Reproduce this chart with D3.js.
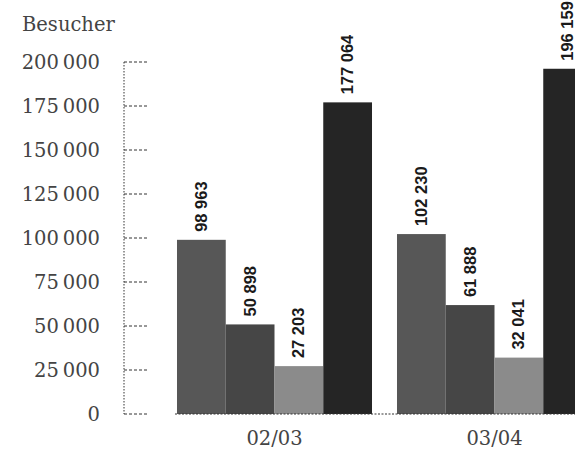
<!DOCTYPE html>
<html>
<head>
<meta charset="utf-8">
<script src="https://cdn.jsdelivr.net/npm/d3@7"></script>
<style>
  html, body { margin: 0; padding: 0; background: #fff; }
  svg { display: block; }
</style>
</head>
<body>
<svg id="chart" width="575" height="450"></svg>
<script>
// ---- data ----
const categories = ["02/03", "03/04"];
const series1 = [98963, 102230];
const series2 = [50898, 61888];
const series3 = [27203, 32041];
const series4 = [177064, 196159];
const tickValues = [0, 25000, 50000, 75000, 100000, 125000, 150000, 175000, 200000];
const yTitle = "Besucher";

// ---- setup ----
const svg = d3.select("#chart");
const colors = ["#575757", "#464646", "#8b8b8b", "#252525"];
const allSeries = [series1, series2, series3, series4];

const locAxis = d3.formatLocale({decimal: ",", thousands: "\u2009", grouping: [3], currency: ["", ""]});
const locBar = d3.formatLocale({decimal: ",", thousands: " ", grouping: [3], currency: ["", ""]});
const fmtAxis = locAxis.format(",d");
const fmtBar = locBar.format(",d");

const y = d3.scaleLinear().domain([0, 200000]).range([414, 62]);
const x0 = d3.scaleBand().domain(categories).range([164.5, 604.5]).paddingInner(0.1136).paddingOuter(0.0568);
const x1 = d3.scaleBand().domain(d3.range(allSeries.length)).range([0, x0.bandwidth()]).padding(0);

// y axis line (dotted)
svg.append("line")
  .attr("x1", 124).attr("x2", 124)
  .attr("y1", y(200000)).attr("y2", y(0))
  .attr("stroke", "#777").attr("stroke-width", 1.5)
  .attr("stroke-dasharray", "1.5,1.5");

// ticks
const yAxis = d3.axisLeft(y).tickValues(tickValues).tickFormat(fmtAxis).tickSize(0);
const gAxis = svg.append("g").attr("transform", "translate(100,0)").call(yAxis);
gAxis.select(".domain").remove();
gAxis.selectAll("text")
  .attr("x", 0)
  .attr("dy", "0.35em")
  .attr("fill", "#444")
  .style("font-family", "'DejaVu Serif', serif")
  .style("font-size", "19.5px");

svg.append("g").selectAll("line").data(tickValues).join("line")
  .attr("x1", 124).attr("x2", 147)
  .attr("y1", d => y(d)).attr("y2", d => y(d))
  .attr("stroke", "#333").attr("stroke-width", 1)
  .attr("stroke-dasharray", "3,2");

// y title
svg.append("text")
  .attr("x", 22).attr("y", 31)
  .attr("fill", "#444")
  .style("font-family", "'DejaVu Serif', serif")
  .style("font-size", "19.5px")
  .text(yTitle);

// bars
const groups = svg.append("g").selectAll("g").data(categories).join("g")
  .attr("transform", d => `translate(${x0(d)},0)`);

groups.each(function(cat, ci) {
  const g = d3.select(this);
  allSeries.forEach((s, si) => {
    const v = s[ci];
    g.append("rect")
      .attr("x", x1(si))
      .attr("y", y(v))
      .attr("width", x1.bandwidth())
      .attr("height", y(0) - y(v))
      .attr("fill", colors[si]);
    const cx = x1(si) + x1.bandwidth() / 2;
    const ty = y(v) - 8;
    g.append("text")
      .attr("transform", `translate(${cx},${ty}) rotate(-90)`)
      .attr("dy", "0.33em")
      .attr("text-anchor", "start")
      .attr("fill", "#1a1a1a")
      .style("font-family", "'Liberation Sans', Arial, sans-serif")
      .style("font-weight", "bold")
      .style("font-size", "16.5px")
      .text(fmtBar(v));
  });
});

// baseline (dotted)
svg.append("line")
  .attr("x1", x0(categories[0]) - 2).attr("x2", 575)
  .attr("y1", y(0)).attr("y2", y(0))
  .attr("stroke", "#333").attr("stroke-width", 1.2)
  .attr("stroke-dasharray", "2,1.5");

// category labels
svg.append("g").selectAll("text").data(categories).join("text")
  .attr("x", d => x0(d) + x0.bandwidth() / 2)
  .attr("y", 445)
  .attr("text-anchor", "middle")
  .attr("fill", "#444")
  .style("font-family", "'DejaVu Serif', serif")
  .style("font-size", "19.5px")
  .text(d => d);
</script>
</body>
</html>
